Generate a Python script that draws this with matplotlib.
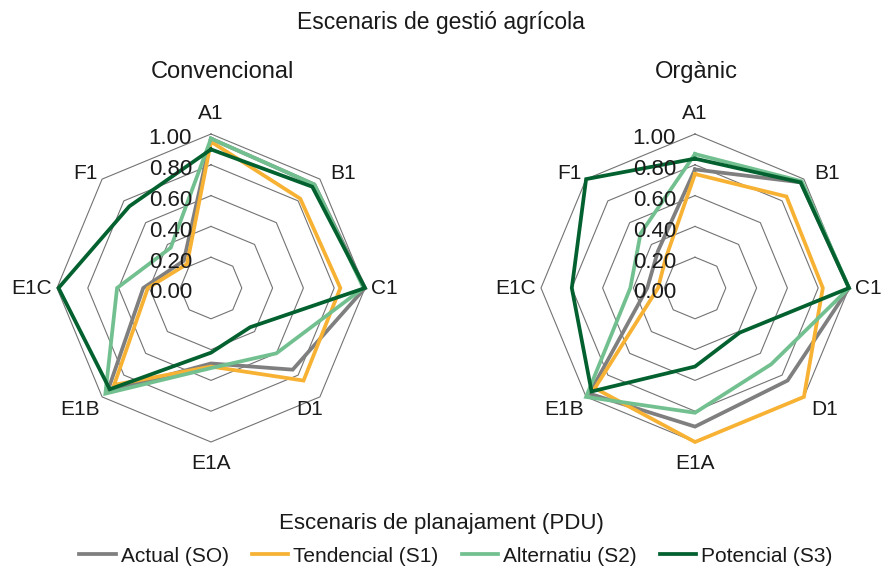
"""
Radar charts: farm-management scenarios (Convencional / Orgànic) under four planning scenarios.
"""

import numpy as np
import matplotlib
matplotlib.use("Agg")
import matplotlib.pyplot as plt
from matplotlib.transforms import offset_copy

plt.rcParams["font.family"] = ["Liberation Sans", "DejaVu Sans"]

categories = ["A1", "B1", "C1", "D1", "E1A", "E1B", "E1C", "F1"]
series_names = ["Actual (SO)", "Tendencial (S1)", "Alternatiu (S2)", "Potencial (S3)"]
ring_levels = [0.0, 0.2, 0.4, 0.6, 0.8, 1.0]

# Convencional
actual_conv = [0.97, 0.95, 1.00, 0.75, 0.49, 0.95, 0.44, 0.25]
tend_conv = [0.95, 0.82, 0.84, 0.85, 0.51, 0.89, 0.41, 0.22]
alt_conv = [0.97, 0.95, 0.99, 0.60, 0.52, 0.97, 0.61, 0.37]
pot_conv = [0.90, 0.93, 1.00, 0.36, 0.42, 0.93, 0.99, 0.75]

# Orgànic
actual_org = [0.77, 0.97, 1.00, 0.85, 0.90, 0.97, 0.31, 0.34]
tend_org = [0.74, 0.84, 0.83, 1.00, 1.00, 0.92, 0.24, 0.27]
alt_org = [0.87, 0.98, 1.00, 0.70, 0.81, 1.00, 0.42, 0.50]
pot_org = [0.84, 0.97, 1.00, 0.41, 0.51, 0.95, 0.80, 1.00]

colors = ["#7f7f7f", "#f7b234", "#72c08f", "#03612f"]
grid_color = "#737373"
text_color = "#1a1a1a"

# label placement relative to the outer vertex: (dx, dy in px, ha, va)
label_style = [
    (0, 11, "center", "bottom"),
    (10, 6, "left", "center"),
    (6, 0, "left", "center"),
    (-10, -3, "center", "top"),
    (0, -12, "center", "top"),
    (-2, -3, "right", "top"),
    (-5, 0, "right", "center"),
    (-4, 6, "right", "center"),
]
label_style_org = list(label_style)
label_style_org[3] = (21, -3, "center", "top")

W, H = 881, 569
fig = plt.figure(figsize=(W / 100, H / 100), dpi=100)

n = len(categories)
theta = np.arange(n) * 2 * np.pi / n
theta_c = np.append(theta, theta[0])


def radar(center_x, center_y, radius, data, styles):
    rect = [(center_x - radius) / W, 1 - (center_y + radius) / H,
            2 * radius / W, 2 * radius / H]
    ax = fig.add_axes(rect, projection="polar")
    ax.set_theta_zero_location("N")
    ax.set_theta_direction(-1)
    ax.set_ylim(0, 1.0)
    ax.grid(False)
    ax.set_xticks([])
    ax.set_yticks([])
    ax.spines["polar"].set_visible(False)
    ax.patch.set_alpha(0)

    for lev in ring_levels[1:]:
        ax.plot(theta_c, [lev] * (n + 1), color=grid_color, lw=0.8,
                clip_on=False, zorder=1)

    for vals, col, name in zip(data, colors, series_names):
        v = np.append(vals, vals[0])
        ax.plot(theta_c, v, color=col, lw=2.7, clip_on=False, zorder=3,
                solid_joinstyle="miter", label=name)

    tick_tr = offset_copy(ax.transData, fig=fig, x=-19, y=-5, units="dots")
    for lev in ring_levels:
        ax.text(0, lev, f"{lev:.2f}", transform=tick_tr, ha="right",
                va="center", fontsize=16, color=text_color, zorder=5)

    for t, cat, (dx, dy, ha, va) in zip(theta, categories, styles):
        tr = offset_copy(ax.transData, fig=fig, x=dx, y=dy, units="dots")
        ax.text(t, 1.0, cat, transform=tr, ha=ha, va=va, fontsize=15,
                color=text_color, zorder=5)
    return ax


ax1 = radar(211, 288, 154, [actual_conv, tend_conv, alt_conv, pot_conv], label_style)
ax2 = radar(695, 288, 154, [actual_org, tend_org, alt_org, pot_org], label_style_org)

fig.text(0.5, 1 - 22 / H, "Escenaris de gestió agrícola", ha="center",
         va="center", fontsize=16.5, color=text_color)
fig.text(222 / W, 1 - 72 / H, "Convencional", ha="center", va="center",
         fontsize=17, color=text_color)
fig.text(696 / W, 1 - 72 / H, "Orgànic", ha="center", va="center",
         fontsize=17, color=text_color)
fig.text(441 / W, 1 - 523 / H, "Escenaris de planajament (PDU)", ha="center",
         va="center", fontsize=16, color=text_color)

handles, labels = ax1.get_legend_handles_labels()
fig.legend(handles, labels, loc="center", bbox_to_anchor=(456 / W, 1 - 556 / H),
           ncol=4, frameon=False, fontsize=15, handlelength=1.75,
           handletextpad=0.25, columnspacing=1.1, labelcolor=text_color)

fig.savefig("out.png", dpi=100)
